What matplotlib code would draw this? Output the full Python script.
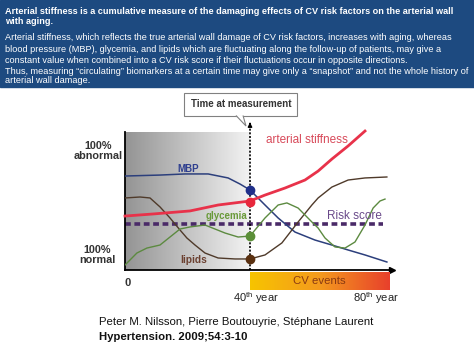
import numpy as np
import matplotlib
matplotlib.use('Agg')
import matplotlib.pyplot as plt
from matplotlib.patches import Rectangle, Polygon
from matplotlib.colors import LinearSegmentedColormap

plt.rcParams['font.family'] = ['Liberation Sans', 'DejaVu Sans']
plt.rcParams['mathtext.fontset'] = 'custom'
plt.rcParams['mathtext.rm'] = 'Liberation Sans'

W, H = 474, 355

# x: years, y: level (0 = 100% normal axis, 100 = top of shaded box)
mbp_x = [0, 11.2, 19.2, 26.6, 33.0, 36.8, 40.0, 44.8, 49.0, 54.4, 60.8, 66.2, 71.4, 76.8, 83.8]
mbp_y = [68.1, 68.8, 69.6, 69.6, 66.7, 62.3, 58.0, 47.1, 37.7, 27.5, 21.7, 18.1, 14.5, 10.9, 5.8]

stiff_x = [0, 9.0, 20.8, 29.8, 40.0, 44.8, 51.2, 57.6, 61.8, 66.2, 71.4, 76.8]
stiff_y = [39.1, 40.6, 42.8, 47.1, 50.0, 54.3, 59.4, 65.2, 71.7, 80.4, 89.9, 100.7]

lipids_x = [0, 4.8, 8.0, 11.2, 14.4, 17.6, 19.8, 22.4, 25.6, 29.8, 35.2, 40.0, 44.8, 50.2,
            55.4, 59.8, 61.8, 66.2, 71.4, 76.8, 83.8]
lipids_y = [52.2, 52.9, 52.2, 45.7, 37.7, 29.0, 23.2, 18.1, 12.3, 8.7, 8.0, 8.0, 10.9, 19.6,
            34.8, 47.1, 52.2, 60.1, 65.2, 66.7, 67.4]

gly_x = [0, 3.8, 7.0, 11.2, 14.4, 17.6, 20.8, 25.6, 28.8, 32.0, 36.2, 40.0, 44.8, 49.0, 51.8,
         55.4, 59.8, 61.8, 64.0, 67.2, 70.4, 73.6, 76.8, 79.4, 81.6, 83.2]
gly_y = [3.6, 12.3, 15.9, 18.1, 23.9, 29.7, 31.2, 32.6, 29.7, 26.8, 23.9, 24.6, 37.7, 47.1, 48.6,
         44.9, 34.8, 30.4, 23.2, 16.7, 15.9, 20.3, 32.6, 44.9, 50.0, 51.4]

risk_x = [0, 82.6]
risk_y = [33.3, 33.3]

measure_year = 40
dot_y = [58.0, 49.3, 24.6, 8.0]
dot_colors = ['#1f2f8a', '#e8283c', '#5b8f38', '#5a3010']

title_lines = [
    "Arterial stiffness is a cumulative measure of the damaging effects of CV risk factors on the arterial wall",
    "with aging.",
]
body_lines = [
    "Arterial stiffness, which reflects the true arterial wall damage of CV risk factors, increases with aging, whereas",
    "blood pressure (MBP), glycemia, and lipids which are fluctuating along the follow-up of patients, may give a",
    "constant value when combined into a CV risk score if their fluctuations occur in opposite directions.",
    "Thus, measuring \u201ccirculating\u201d biomarkers at a certain time may give only a \u201csnapshot\u201d and not the whole history of",
    "arterial wall damage.",
]


def fx(px):
    return px / W


def fy(py):
    return 1 - py / H


fig = plt.figure(figsize=(4.74, 3.55), dpi=100)

# top banner
fig.patches.append(Rectangle((0, fy(87)), 1, 87 / H, transform=fig.transFigure,
                             color='#1d4a80', zorder=0))
for py, line in zip([11, 21.5], title_lines):
    fig.text(fx(5), fy(py), line, color='white', fontsize=6.6, fontweight='bold', va='center')
for py, line in zip([37.3, 49.3, 60.7, 71, 80.7], body_lines):
    fig.text(fx(5), fy(py), line, color='white', fontsize=6.6, va='center')

# main chart
ax = fig.add_axes([fx(125), fy(270), (392 - 125) / W, (270 - 132) / H])
grad = np.linspace(0.58, 0.95, 256)[None, :]
ax.imshow(grad, cmap='gray', vmin=0, vmax=1, extent=[0, measure_year, 0, 100],
          aspect='auto', zorder=0)
ax.set_xlim(0, 85.44)
ax.set_ylim(0, 100)
for s in ['top', 'right']:
    ax.spines[s].set_visible(False)
ax.spines['left'].set_linewidth(1.3)
ax.spines['bottom'].set_linewidth(1.3)
ax.set_xticks([])
ax.set_yticks([])
ax.plot(1, 0, '>k', ms=4, transform=ax.get_yaxis_transform(), clip_on=False)

ax.plot(risk_x, risk_y, color='#4a2a68', lw=2.6, dashes=(1.6, 1.0), zorder=2)
ax.plot(mbp_x, mbp_y, color='#2c3f7c', lw=1.1, zorder=3)
ax.plot(lipids_x, lipids_y, color='#4f3a2a', lw=1.0, zorder=3)
ax.plot(gly_x, gly_y, color='#5c8a40', lw=1.0, zorder=3)
ax.plot(stiff_x, stiff_y, color='#e8324a', lw=2.0, zorder=3, clip_on=False)

ax.plot([measure_year, measure_year], [0, 106], color='k', lw=1.2,
        dashes=(1.2, 1.0), zorder=4, clip_on=False)
ax.annotate('', xy=(measure_year, 109), xytext=(measure_year, 104),
            arrowprops=dict(arrowstyle='-|>', color='k', lw=1, mutation_scale=6),
            annotation_clip=False)
for yv, c in zip(dot_y, dot_colors):
    ax.plot(measure_year, yv, 'o', color=c, ms=6, zorder=5, clip_on=False)

# curve labels
fig.text(fx(188), fy(169), 'MBP', color='#2f3f8f', fontsize=7, fontweight='bold',
         ha='center', va='center')
fig.text(fx(226), fy(216), 'glycemia', color='#6a9a3a', fontsize=7, fontweight='bold',
         ha='center', va='center')
fig.text(fx(194), fy(260), 'lipids', color='#6b4030', fontsize=7.3, fontweight='bold',
         ha='center', va='center')
fig.text(fx(307), fy(140), 'arterial stiffness', color='#d84a5a', fontsize=8.5,
         ha='center', va='center')
fig.text(fx(354), fy(216), 'Risk score', color='#6a4a8a', fontsize=8.5,
         ha='center', va='center')

# y labels
fig.text(fx(98), fy(151), '100%\nabnormal', color='#333333', fontsize=7.8, fontweight='bold',
         ha='center', va='center', linespacing=1.0)
fig.text(fx(97), fy(255), '100%\nnormal', color='#333333', fontsize=7.8, fontweight='bold',
         ha='center', va='center', linespacing=1.0)
fig.text(fx(128), fy(283), '0', color='#333333', fontsize=8, fontweight='bold',
         ha='center', va='center')

# CV events bar
cv_cmap = LinearSegmentedColormap.from_list('cv', ['#f7c400', '#f49a1e', '#e8402c'])
bax = fig.add_axes([fx(250), fy(290), 140 / W, 18 / H])
bax.imshow(np.linspace(0, 1, 256)[None, :], cmap=cv_cmap, aspect='auto', extent=[0, 1, 0, 1])
bax.axis('off')
fig.text(fx(319), fy(281), 'CV events', color='#8a3a12', fontsize=8.2, ha='center', va='center')

fig.text(fx(256), fy(298), '40$^{\\mathrm{th}}$ year', color='#222222', fontsize=8,
         ha='center', va='center')
fig.text(fx(376), fy(298), '80$^{\\mathrm{th}}$ year', color='#222222', fontsize=8,
         ha='center', va='center')

# time at measurement callout
fig.patches.append(Rectangle((fx(184), fy(116)), 113 / W, 23 / H, transform=fig.transFigure,
                             facecolor='white', edgecolor='#808080', lw=0.8, zorder=3))
fig.patches.append(Polygon([(fx(236), fy(115.5)), (fx(246), fy(126)), (fx(243), fy(115.5))],
                           closed=False, transform=fig.transFigure, facecolor='white',
                           edgecolor='#808080', lw=0.8, zorder=4))
fig.text(fx(241), fy(104), 'Time at measurement', color='#333333', fontsize=7.0,
         fontweight='bold', ha='center', va='center', zorder=5)

# citation
fig.text(fx(99), fy(322), 'Peter M. Nilsson, Pierre Boutouyrie, St\u00e9phane Laurent',
         color='#111111', fontsize=8.2, va='center')
fig.text(fx(99), fy(337), 'Hypertension. 2009;54:3-10', color='#111111', fontsize=8.2,
         fontweight='bold', va='center')

fig.savefig('out.png', dpi=100)
